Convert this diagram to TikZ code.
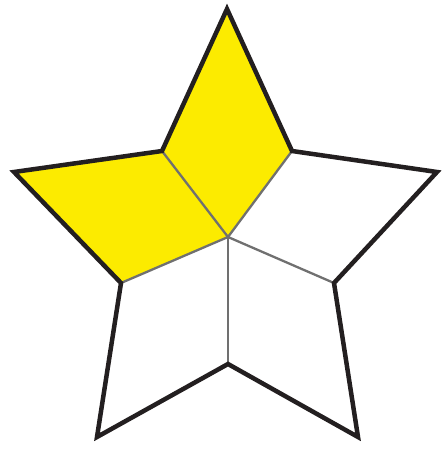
\documentclass[tikz,border=0pt]{standalone}
\usepackage{tikz}
\definecolor{staryellow}{RGB}{252,235,0}
\definecolor{rimblack}{RGB}{35,31,32}
\definecolor{seamgray}{RGB}{112,112,112}

\begin{document}
\begin{tikzpicture}[
  x=1pt, y=-1pt,
  rim/.style={draw=rimblack, line width=4.5pt, line join=miter, miter limit=10},
  seam/.style={draw=seamgray, line width=2.3pt},
  piece/.style={fill=staryellow}
]
\useasboundingbox (0,0) rectangle (443,449);
% outer points
\coordinate (top) at (227,9);
\coordinate (right) at (437,172);
\coordinate (lowright) at (358,437);
\coordinate (lowleft) at (97,437);
\coordinate (left) at (14,172);
% inner corners
\coordinate (inur) at (292,151);
\coordinate (inlr) at (334,283);
\coordinate (inb) at (228,364);
\coordinate (inll) at (121,283);
\coordinate (inul) at (162,151);
\coordinate (mid) at (228,237);
% coloured pieces
\fill[piece] (mid) -- (inul) -- (top) -- (inur) -- cycle;
\fill[piece] (mid) -- (inll) -- (left) -- (inul) -- cycle;
% seams
\foreach \c in {inur,inlr,inb,inll,inul}
  \draw[seam] (mid) -- (\c);
% outline
\draw[rim] (top) -- (inur) -- (right) -- (inlr) -- (lowright) -- (inb)
  -- (lowleft) -- (inll) -- (left) -- (inul) -- cycle;
\end{tikzpicture}
\end{document}
